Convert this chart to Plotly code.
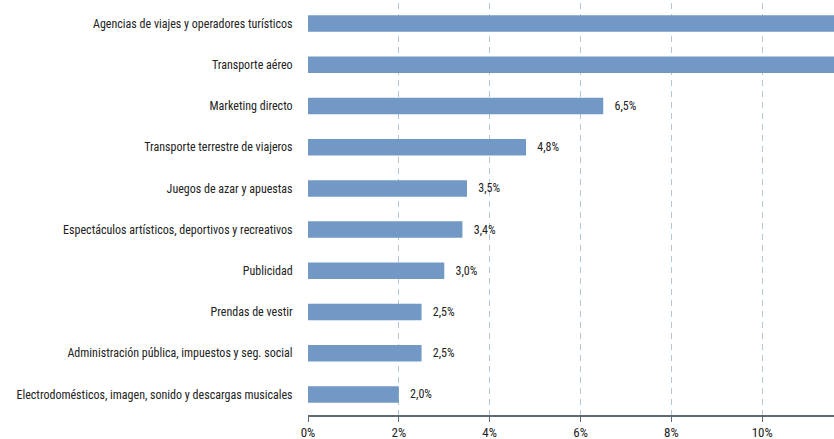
import plotly.graph_objects as go

# Share of spending by sector (%), top to bottom
categories = [
    "Agencias de viajes y operadores turísticos",
    "Transporte aéreo",
    "Marketing directo",
    "Transporte terrestre de viajeros",
    "Juegos de azar y apuestas",
    "Espectáculos artísticos, deportivos y recreativos",
    "Publicidad",
    "Prendas de vestir",
    "Administración pública, impuestos y seg. social",
    "Electrodomésticos, imagen, sonido y descargas musicales",
]
values = [14.6, 12.9, 6.5, 4.8, 3.5, 3.4, 3.0, 2.5, 2.5, 2.0]

tick_vals = [0, 2, 4, 6, 8, 10]
tick_text = ["0%", "2%", "4%", "6%", "8%", "10%"]

X_MAX = 11.58
FONT = "Liberation Sans Narrow, Arial Narrow, Roboto Condensed, sans-serif"
BAR = "#7299c6"

# value labels; bars running past the visible axis carry none
labels = [
    ("   " + f"{v:.1f}".replace(".", ",") + "%") if v < X_MAX else ""
    for v in values
]

fig = go.Figure(
    go.Bar(
        x=values,
        y=categories,
        orientation="h",
        marker=dict(color=BAR, line=dict(width=0)),
        width=0.4,
        text=labels,
        textposition="outside",
        textfont=dict(family=FONT, size=12, color="#222222"),
        cliponaxis=True,
    )
)

fig.update_layout(
    width=834,
    height=439,
    margin=dict(l=308, r=0, t=3, b=24),
    paper_bgcolor="white",
    plot_bgcolor="white",
    showlegend=False,
    font=dict(family=FONT, size=12, color="#222222"),
)

fig.update_xaxes(
    range=[0, X_MAX],
    tickvals=tick_vals,
    ticktext=tick_text,
    showgrid=True,
    gridcolor="#b4c6d3",
    griddash="6px,5px",
    gridwidth=1,
    zeroline=False,
    showline=True,
    linecolor="#5c6b76",
    linewidth=1.5,
    ticks="outside",
    ticklen=5,
    tickcolor="#5c6b76",
    tickfont=dict(family=FONT, size=13, color="#222222"),
    fixedrange=True,
)

fig.update_yaxes(
    categoryorder="array",
    categoryarray=categories[::-1],
    showgrid=False,
    zeroline=False,
    showline=False,
    ticks="outside",
    ticklen=12,
    tickcolor="rgba(0,0,0,0)",
    tickfont=dict(family=FONT, size=12, color="#222222"),
    range=[-0.5, len(categories) - 0.5],
    fixedrange=True,
)

fig.write_html("out.html")
